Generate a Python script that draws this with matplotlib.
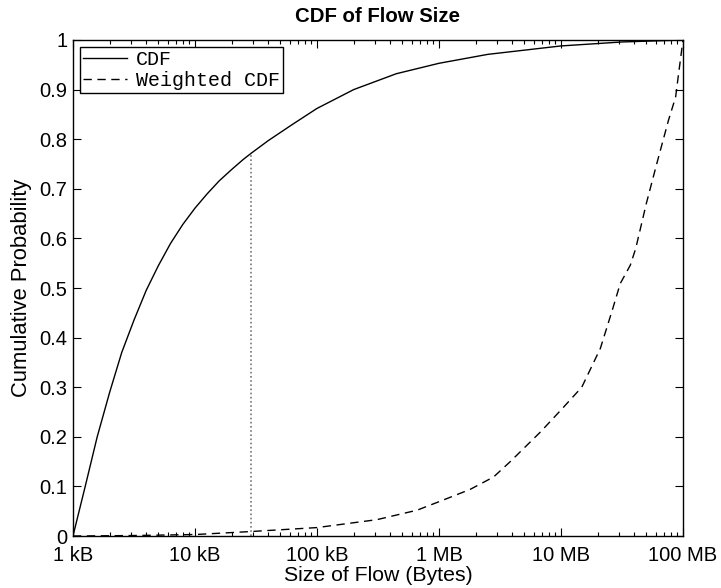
#!/usr/bin/env python3
"""
CDF of Flow Size - 流大小累积分布图
"""

import matplotlib
matplotlib.use('Agg')
import matplotlib.pyplot as plt
import numpy as np

plt.rcParams['font.family'] = ['Liberation Sans', 'DejaVu Sans']

# 普通 CDF (x: 字节, 对数刻度)
cdf_size = [1e3, 1.26e3, 1.58e3, 2.0e3, 2.51e3, 3.16e3, 3.98e3, 5.01e3, 6.31e3,
            7.94e3, 1e4, 1.26e4, 1.58e4, 2.0e4, 2.51e4, 2.9e4, 3.98e4, 6.31e4,
            1e5, 2.0e5, 4.47e5, 1e6, 2.51e6, 1e7, 3.16e7, 1e8]
cdf_val = [0.0, 0.10, 0.20, 0.29, 0.37, 0.435, 0.495, 0.545, 0.59,
           0.628, 0.661, 0.690, 0.716, 0.739, 0.760, 0.772, 0.797, 0.830,
           0.862, 0.900, 0.932, 0.953, 0.971, 0.988, 0.996, 1.0]

# 加权 CDF
wcdf_size = [1e3, 3.2e3, 1e4, 2.85e4, 1e5, 3.1e5, 6.6e5, 1.02e6, 1.8e6, 2.8e6, 3.8e6,
             6.8e6, 9.9e6, 1.48e7, 2.1e7, 2.63e7, 3.06e7, 3.7e7, 4.1e7, 5.0e7,
             6.1e7, 7.6e7, 8.7e7, 9.2e7, 1e8]
wcdf_val = [0.0, 0.001, 0.003, 0.009, 0.017, 0.033, 0.052, 0.070, 0.094, 0.119, 0.149,
            0.21, 0.253, 0.30, 0.378, 0.455, 0.509, 0.546, 0.58, 0.67,
            0.751, 0.838, 0.885, 0.932, 1.0]

# 参考线位置
marker_size = 2.9e4
marker_val = 0.772

xtick_vals = [1e3, 1e4, 1e5, 1e6, 1e7, 1e8]
xtick_labels = ['1 kB', '10 kB', '100 kB', '1 MB', '10 MB', '100 MB']
ytick_vals = [0, 0.1, 0.2, 0.3, 0.4, 0.5, 0.6, 0.7, 0.8, 0.9, 1.0]
ytick_labels = ['0', '0.1', '0.2', '0.3', '0.4', '0.5', '0.6', '0.7', '0.8', '0.9', '1']

fig = plt.figure(figsize=(7.21, 5.88), dpi=100)
ax = fig.add_axes([0.1012, 0.0884, 0.8461, 0.8436])

ax.plot(cdf_size, cdf_val, color='black', linewidth=1.0, label='CDF')
ax.plot(wcdf_size, wcdf_val, color='black', linewidth=1.0, linestyle=(0, (6, 4)),
        label='Weighted CDF')
ax.plot([marker_size, marker_size], [0, marker_val], color='#777777',
        linestyle=(0, (1, 1.5)), linewidth=1.2)

ax.set_xscale('log')
ax.set_xlim(1e3, 1e8)
ax.set_ylim(0, 1)
ax.set_xticks(xtick_vals)
ax.set_xticklabels(xtick_labels)
ax.set_yticks(ytick_vals)
ax.set_yticklabels(ytick_labels)

ax.tick_params(which='both', direction='in', top=True, right=True, labelsize=14.5)
ax.tick_params(axis='x', which='major', pad=7)
ax.tick_params(axis='y', which='major', pad=4)
ax.tick_params(which='major', length=6, width=0.8)
ax.tick_params(which='minor', length=3, width=0.8)
for s in ax.spines.values():
    s.set_linewidth(1.0)

ax.set_xlabel('Size of Flow (Bytes)', fontsize=15.3, labelpad=1)
ax.set_ylabel('Cumulative Probability', fontsize=15.8, labelpad=5)
ax.set_title('CDF of Flow Size', fontsize=14.7, fontweight='bold', pad=13)

leg = ax.legend(loc='upper left', prop={'family': 'Liberation Mono', 'size': 14.4},
                handlelength=2.2, handletextpad=0.45, borderpad=0.15,
                labelspacing=0.1, borderaxespad=0.35, fancybox=False)
leg.get_frame().set_edgecolor('black')
leg.get_frame().set_linewidth(1.0)
leg.get_frame().set_alpha(1.0)

plt.savefig('out.png', dpi=100)
plt.close()
